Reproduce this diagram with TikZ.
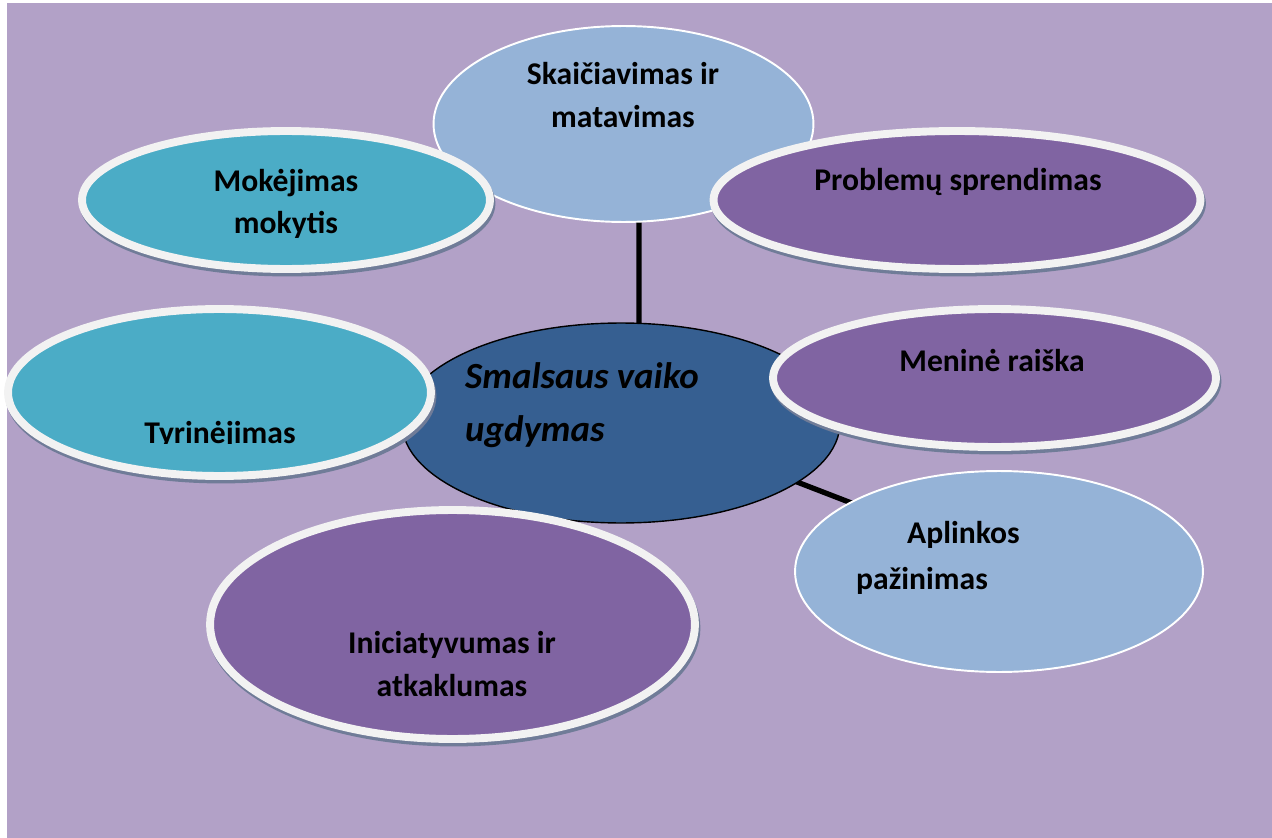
\documentclass[tikz,border=0pt]{standalone}
\usepackage{fontspec}
\setmainfont{Carlito}
\usepackage{tikz}
\usetikzlibrary{shapes.geometric,backgrounds}
\definecolor{bgpurple}{RGB}{178,161,199}
\definecolor{bubteal}{RGB}{75,172,198}
\definecolor{bubpurple}{RGB}{128,100,162}
\definecolor{bubblue}{RGB}{149,179,215}
\definecolor{hubblue}{RGB}{54,95,145}
\definecolor{ringwhite}{RGB}{242,242,242}
\definecolor{shadowgrey}{RGB}{112,124,152}

\begin{document}
\begin{tikzpicture}[x=0.02cm, y=-0.02cm,
  bubble/.style={ellipse, inner sep=0pt},
  ringed/.style={bubble, draw=ringwhite, line width=4.5pt,
    preaction={draw=shadowgrey, fill=shadowgrey, line width=4.5pt,
      transform canvas={shift={(0.03cm,-0.07cm)}}}},
  thinrim/.style={bubble, draw=white, line width=1.1pt},
  lbl/.style={font=\fontsize{18}{24}\selectfont\bfseries, align=center, text=black},
  link/.style={line width=3pt, black}]
\useasboundingbox (0,0) rectangle (1272,838);
% -- bubbles, back to front --
\node[thinrim, fill=bubblue, minimum width=7.6cm, minimum height=3.92cm] (skaic) at (623.5,124) {};
\node[ringed, fill=bubteal, minimum width=8.16cm, minimum height=2.76cm] (mokej) at (286,200) {};
\node[ringed, fill=bubpurple, minimum width=9.74cm, minimum height=2.76cm] (probl) at (957,200) {};
\node[bubble, draw=black, line width=0.8pt, fill=hubblue, minimum width=8.76cm, minimum height=4cm] (centre) at (621,423) {};
\node[ringed, fill=bubteal, minimum width=8.46cm, minimum height=3.34cm] (tyrin) at (219.5,392.5) {};
\node[ringed, fill=bubpurple, minimum width=8.86cm, minimum height=2.76cm] (menine) at (994.5,378) {};
\node[ringed, fill=bubpurple, minimum width=9.7cm, minimum height=4.58cm] (inic) at (452.5,624.5) {};
\node[thinrim, fill=bubblue, minimum width=8.16cm, minimum height=4.02cm] (aplink) at (999,571.5) {};
% -- texts --
\node[lbl] (skaictxt) at (623,95) {Skaičiavimas ir\\matavimas};
\node[lbl] (mokejtxt) at (286,204) {Mokėjimas\\mokytis};
\node[lbl] (probltxt) at (958,182) {Problemų sprendimas};
\node[lbl] (eninetxt) at (992,360) {Meninė raiška};
\node[lbl] (inictxt) at (452,664) {Iniciatyvumas ir\\atkaklumas};
\node[lbl, align=left, anchor=west, font=\fontsize{18}{26}\selectfont\bfseries] (aplinktxt) at (850,558) {\hspace*{29pt}Aplinkos\\pažinimas};
\begin{scope}
  \clip (0,0) rectangle (1272,443);
  \node[lbl, anchor=base] (tyrintxt) at (220,443) {Tyrinėjimas};
\end{scope}
\node[align=left, anchor=west, text=black, font=\fontsize{21}{30}\selectfont\bfseries\itshape] (centretxt) at (459,405) {Smalsaus vaiko\\ugdymas};
% -- page and connectors behind --
\begin{pgfonlayer}{background}
  \fill[bgpurple] (7,3) rectangle (1272,838);
  \draw[link] ([xshift=0.31cm]skaic.center) -- ([xshift=0.36cm]centre.center);
  \draw[link] ([yshift=0.18cm]centre.center) -- ([yshift=0.23cm]aplink.center);
\end{pgfonlayer}
\end{tikzpicture}
\end{document}
